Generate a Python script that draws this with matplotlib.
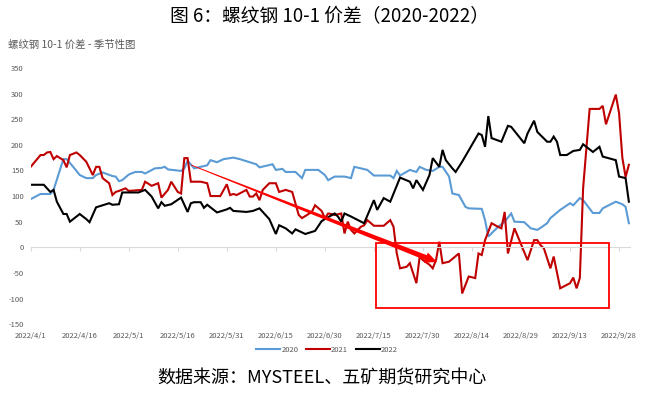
import numpy as np
import pandas as pd
import matplotlib
matplotlib.use("Agg")
import matplotlib.pyplot as plt
from matplotlib.patches import Polygon, Rectangle

plt.rcParams['font.family'] = ['Noto Sans CJK SC', 'DejaVu Sans']

# ---------------- data ----------------
dates_2020 = ["4/1","4/4","4/7","4/8","4/11","4/12","4/14","4/16","4/18","4/20","4/21","4/23",
              "4/26","4/27","4/28","4/29","5/1","5/3","5/5","5/6","5/9","5/11","5/12","5/13",
              "5/17","5/18","5/19","5/21","5/23","5/25","5/26","5/28","5/30","6/2","6/4","6/7",
              "6/9","6/10","6/14","6/15","6/17","6/18","6/21","6/23","6/24","6/28","6/30","7/1",
              "7/3","7/5","7/6","7/8","7/9","7/11","7/13","7/15","7/20","7/21","7/22","7/23",
              "7/26","7/28","7/29","7/31","8/2","8/4","8/5","8/7","8/8","8/10","8/12","8/13",
              "8/17","8/18","8/19","8/22","8/24","8/26","8/27","8/30","9/1","9/3","9/4","9/6",
              "9/7","9/10","9/13","9/14","9/16","9/17","9/20","9/22","9/23","9/27","9/29","9/30","10/1"]
vals_2020 = [94,104,104,112,172,172,157,141,135,135,141,146,
             139,138,129,131,142,147,147,144,154,155,157,152,
             149,154,169,154,157,160,170,166,172,175,172,166,
             162,156,162,151,153,147,147,135,151,151,141,131,
             138,138,138,135,157,154,151,140,140,135,149,140,
             151,147,157,151,149,157,157,138,105,102,79,76,
             75,53,21,40,50,66,50,49,37,34,38,47,
             57,73,86,82,96,92,67,67,76,89,84,79,47]

dates_2021 = ["4/1","4/4","4/5","4/6","4/7","4/8","4/9","4/11","4/12","4/13","4/15","4/16",
              "4/18","4/20","4/21","4/22","4/23","4/25","4/26","4/27","4/28","4/30","5/1","5/5",
              "5/6","5/8","5/10","5/11","5/13","5/14","5/16","5/17","5/18","5/19","5/20","5/23",
              "5/25","5/26","5/29","5/31","6/1","6/2","6/3","6/6","6/7","6/8","6/9","6/10",
              "6/11","6/13","6/15","6/16","6/18","6/20","6/22","6/23","6/26","6/27","6/29","6/30",
              "7/1","7/2","7/3","7/5","7/6","7/7","7/8","7/9","7/11","7/12","7/13","7/15",
              "7/18","7/20","7/21","7/22","7/23","7/25","7/26","7/28","7/29","7/30","8/1","8/2",
              "8/3","8/4","8/5","8/7","8/10","8/11","8/13","8/15","8/16","8/17","8/18","8/20",
              "8/22","8/23","8/24","8/25","8/27","8/31","9/2","9/3","9/4","9/5","9/7","9/8",
              "9/10","9/13","9/14","9/15","9/16","9/17","9/19","9/22","9/23","9/24","9/27","9/28",
              "9/29","9/30","10/1"]
vals_2021 = [157,180,180,185,186,172,178,170,156,180,185,180,
             167,141,157,157,135,125,102,108,110,115,110,112,
             128,120,125,97,112,128,108,105,174,174,128,128,
             125,100,100,123,102,104,102,112,99,99,105,92,
             112,125,125,108,112,108,63,57,69,82,71,57,
             66,65,63,66,27,50,34,27,40,43,53,42,
             42,53,40,-12,-41,-38,-31,-70,-18,-25,-34,-41,
             -25,11,-31,-28,-12,-90,-57,-60,-12,-15,14,47,
             40,37,69,-12,37,-25,14,14,4,-2,-41,-18,
             -80,-70,-59,-80,-60,115,270,270,276,240,298,262,
             175,137,161]

dates_2022 = ["4/1","4/5","4/7","4/8","4/9","4/11","4/12","4/13","4/16","4/18","4/19","4/21",
              "4/25","4/26","4/28","4/29","5/4","5/6","5/8","5/10","5/11","5/12","5/14","5/17",
              "5/19","5/20","5/21","5/23","5/24","5/25","5/28","5/31","6/1","6/2","6/6","6/8",
              "6/10","6/13","6/15","6/16","6/18","6/20","6/21","6/24","6/27","6/29","6/30","7/3",
              "7/4","7/5","7/6","7/8","7/12","7/15","7/16","7/18","7/20","7/23","7/26","7/27",
              "7/28","7/30","8/1","8/2","8/4","8/5","8/6","8/8","8/9","8/10","8/11","8/16",
              "8/17","8/18","8/19","8/20","8/23","8/25","8/26","8/30","8/31","9/2","9/3","9/6",
              "9/7","9/8","9/9","9/10","9/12","9/14","9/16","9/17","9/20","9/22","9/23","9/27",
              "9/28","9/30","10/1"]
vals_2022 = [122,122,108,112,89,65,65,50,65,55,49,78,
             86,83,84,107,107,112,99,76,88,81,84,97,
             69,86,88,88,77,83,68,74,77,71,69,71,
             76,55,26,43,37,27,35,26,32,51,55,66,
             60,50,66,60,47,92,73,96,89,136,128,115,
             131,112,141,174,157,190,170,154,147,157,167,222,
             219,196,256,213,206,237,235,203,222,247,225,206,
             206,216,206,180,180,188,190,201,186,196,177,170,
             138,135,89]

series_names = ["2020", "2021", "2022"]
series_colors = ["#5B9BD5", "#C00000", "#000000"]

tick_dates = ["4/1","4/16","5/1","5/16","5/31","6/15","6/30","7/15","7/30","8/14","8/29","9/13","9/28"]
y_ticks = [-150,-100,-50,0,50,100,150,200,250,300,350]

def to_dt(lst):
    return pd.to_datetime(["2022/" + s for s in lst], format="%Y/%m/%d")

# ---------------- figure ----------------
W, H = 656, 393
fig = plt.figure(figsize=(W/100, H/100), dpi=100)
L, R, T, B = 30.7, 630.5, 67.9, 324.2
ax = fig.add_axes([L/W, 1-B/H, (R-L)/W, (B-T)/H])

for d, v, n, c in zip([dates_2020, dates_2021, dates_2022],
                      [vals_2020, vals_2021, vals_2022], series_names, series_colors):
    ax.plot(to_dt(d), v, color=c, lw=1.5, label=n, solid_joinstyle='miter')

ax.set_ylim(-150, 350)
ax.set_xlim(pd.Timestamp("2022-04-01"), pd.Timestamp("2022-10-01 12:00"))
ax.set_yticks(y_ticks)
ax.set_yticklabels([str(v) for v in y_ticks])
td = to_dt(tick_dates)
ax.set_xticks(td)
ax.set_xticklabels(["2022/" + s for s in tick_dates])

for s in ["top", "right", "left"]:
    ax.spines[s].set_visible(False)
ax.spines["bottom"].set_position(("data", 0))
ax.spines["bottom"].set_color("#D9D9D9")
ax.spines["bottom"].set_linewidth(0.8)
ax.tick_params(axis="x", colors="#D9D9D9", length=3, width=0.8, pad=58,
               labelsize=5.5, labelcolor="#595959")
ax.tick_params(axis="y", length=0, pad=5, labelsize=5.5, labelcolor="#595959")

# legend
ax.legend(loc="center", bbox_to_anchor=(327/W, 1-350/H), bbox_transform=fig.transFigure,
          ncol=3, frameon=False, fontsize=5.5, handlelength=3.2, columnspacing=1.0,
          handletextpad=0.1, labelcolor="#595959")

# titles
fig.text(330/W, 1-17/H, "图 6：螺纹钢 10-1 价差（2020-2022）", ha="center", va="center",
         fontsize=13.5, color="black", fontweight="medium")
fig.text(8/W, 1-45/H, "螺纹钢 10-1 价差 - 季节性图", ha="left", va="center",
         fontsize=7.5, color="#595959")
fig.text(322/W, 1-378/H, "数据来源：MYSTEEL、五矿期货研究中心", ha="center", va="center",
         fontsize=13, color="black", fontweight="medium")

# annotation: red rectangle
fig.patches.append(Rectangle((376/W, 1-307.7/H), (609-376)/W, (307.7-242.7)/H,
                             transform=fig.transFigure, fill=False, edgecolor="#FF0000", lw=1.3))

# annotation: tapered arrow (pixel space)
p0 = np.array([191.0, 165.0]); p1 = np.array([437.0, 262.0])
dvec = p1 - p0; ln = np.linalg.norm(dvec); u = dvec/ln; nrm = np.array([-u[1], u[0]])
head_len, head_w = 12.0, 5.5
w0, w1 = 0.4, 2.6
pb = p1 - u*head_len
pts = [p0 + nrm*w0, pb + nrm*w1, pb + nrm*head_w, p1, pb - nrm*head_w, pb - nrm*w1, p0 - nrm*w0]
pts = [(x/W, 1-y/H) for x, y in pts]
fig.patches.append(Polygon(pts, closed=True, transform=fig.transFigure,
                           facecolor="#FF0000", edgecolor="none"))

fig.savefig("out.png", dpi=100)
